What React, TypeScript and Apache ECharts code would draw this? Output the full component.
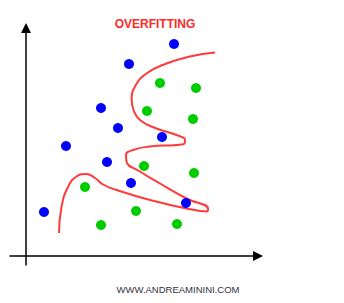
import React, { useEffect, useRef } from "react";
import * as echarts from "echarts";

// data in "pixel-like" units: x = horizontal distance from y axis, y = height above x axis
const bluePoints: number[][] = [
  [148, 212], [103, 192], [75, 148], [92, 128], [40, 110], [136, 119],
  [81, 94], [105, 73], [160, 53], [18, 44],
];
const greenPoints: number[][] = [
  [134, 173], [170, 168], [121, 145], [167, 137], [118, 90], [168, 83],
  [59, 69], [110, 45], [75, 31], [151, 32],
];
const curvePoints: number[][] = [
  [33, 23], [35.5, 49], [42, 69], [50.5, 79.5], [60, 82], [69, 78], [77, 71.5],
  [90.5, 66], [124, 56], [160.5, 47.5], [181, 44.5], [182, 47], [160.5, 57.5],
  [134, 72.5], [114, 84.5], [100.5, 94.5], [100, 101], [107, 106], [124, 109.5],
  [150.5, 111], [158.5, 112.5], [159, 116], [150.5, 121], [130.5, 127.5],
  [114, 136], [107.5, 146], [105.7, 156], [109, 169.5], [120.5, 182.5],
  [140.5, 192.5], [164, 199.5], [189, 203.5],
];
const titleText = "OVERFITTING";
const footerText = "WWW.ANDREAMININI.COM";

export default function App() {
  const ref = useRef<HTMLDivElement>(null);
  useEffect(() => {
    if (!ref.current) return;
    const chart = echarts.init(ref.current, undefined, { renderer: "svg" });
    chart.setOption({
      animation: false,
      backgroundColor: "#ffffff",
      grid: { left: 10, right: 86, top: 28, bottom: 38, containLabel: false },
      graphic: [
        {
          type: "text",
          x: 155,
          y: 24,
          style: {
            text: titleText,
            align: "center",
            verticalAlign: "middle",
            fill: "#ff2a2a",
            fontSize: 12,
            fontWeight: "bold",
            fontFamily: "Liberation Sans",
          },
        },
        {
          type: "text",
          x: 178,
          y: 289.5,
          style: {
            text: footerText,
            align: "center",
            verticalAlign: "middle",
            fill: "#333344",
            fontSize: 9.5,
            fontFamily: "Liberation Sans",
          },
        },
      ],
      xAxis: {
        type: "value",
        min: -16,
        max: 232,
        axisLine: {
          show: true,
          onZero: true,
          symbol: ["none", "triangle"],
          symbolSize: [10, 10],
          lineStyle: { color: "#000", width: 1.5 },
        },
        axisTick: { show: false },
        axisLabel: { show: false },
        splitLine: { show: false },
      },
      yAxis: {
        type: "value",
        min: -9,
        max: 228,
        axisLine: {
          show: true,
          onZero: true,
          symbol: ["none", "triangle"],
          symbolSize: [10, 10],
          lineStyle: { color: "#000", width: 1.5 },
        },
        axisTick: { show: false },
        axisLabel: { show: false },
        splitLine: { show: false },
      },
      series: [
        {
          type: "scatter",
          data: bluePoints,
          symbolSize: 10,
          itemStyle: { color: "#0000ff", opacity: 1 },
        },
        {
          type: "scatter",
          data: greenPoints,
          symbolSize: 10,
          itemStyle: { color: "#00cc00", opacity: 1 },
        },
        {
          type: "line",
          data: curvePoints,
          smooth: 0.5,
          showSymbol: false,
          symbol: "none",
          lineStyle: { color: "#ff3a3a", width: 2 },
          z: 1,
        },
      ],
    });
    return () => chart.dispose();
  }, []);
  return (
    <div
      ref={ref}
      style={{ position: "fixed", left: 0, top: 0, width: 344, height: 303, background: "#fff" }}
    />
  );
}
